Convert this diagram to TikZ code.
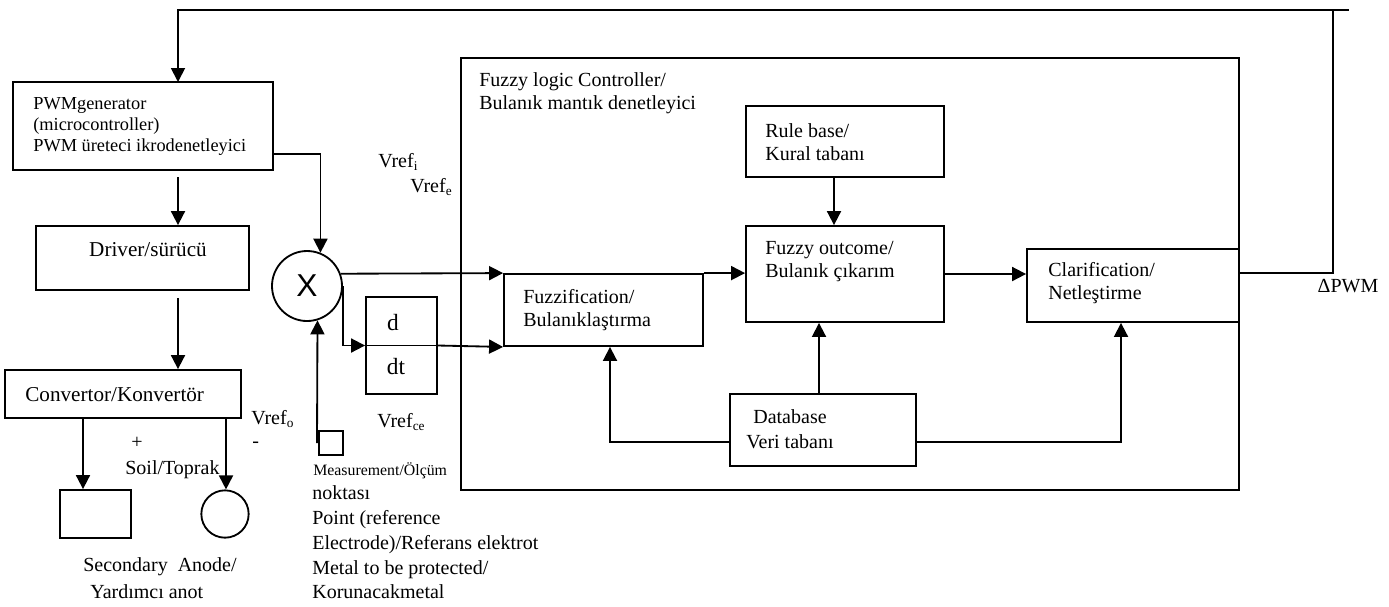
\documentclass[tikz,border=0pt]{standalone}
\usepackage{fontspec}
\setmainfont{Liberation Serif}
\newfontfamily\xsans{Liberation Sans}
\usetikzlibrary{arrows.meta, fit, positioning}
\tikzset{
	blk/.style={draw, line width=1.1pt, inner sep=0pt}
}
\tikzset{
	arr/.style={line width=1.1pt, -{Triangle[length=8.4pt,width=8.4pt]}}
}
\tikzset{
	txt/.style={inner sep=0pt, align=left, font=\fontsize{12}{13.8}\selectfont}
}
\newcommand{\fsz}[2]{\fontsize{#1}{#2}\selectfont}

\begin{document}
\begin{tikzpicture}[x=0.6pt, y=-0.6pt]
      \useasboundingbox (0,0) rectangle (1389,606);
      % left chain: generator, driver, convertor, electrodes
      \node[blk, fit={(13,82) (273,170)}] (pwm) {};
      \node[blk, fit={(36,226) (249,290)}] (drv) {};
      \node[blk, fit={(5,370) (241,418)}] (conv) {};
      \node[blk, fit={(60,490) (131,538)}] (sq) {};
      \node[blk, circle, minimum size=28.4pt] (an) at (225,514) {};
      \node[blk, circle, minimum size=42pt, font=\xsans\fsz{19}{20}] (X) at (307,286) {X};
      \node[blk, fit={(319,431) (343,455)}] (meas) {};
      \node[blk, fit={(366,297) (437,394)}] (ddt) {};
      % fuzzy controller
      \node[blk, fit={(461,58) (1239,490)}] (flc) {};
      \node[blk, fit={(746,106) (944,177)}] (rule) {};
      \node[blk, fit={(746,226) (944,322)}] (outc) {};
      \node[blk, fit={(504,274) (703,346)}] (fuzz) {};
      \node[blk, fit={(1027,249) (1239,322)}] (clar) {};
      \node[blk, fit={(730,394) (916,466)}] (db) {};

      % texts
      \node[txt, anchor=west, font=\fsz{11}{12.6}] (pwmtxt) at (33,126)
        {PWMgenerator\\(microcontroller)\\PWM üreteci ikrodenetleyici};
      \node[txt, font=\fsz{12.7}{14}] (drvtxt) at (148,250) {Driver/sürücü};
      \node[txt, anchor=west, font=\fsz{12.7}{14}] (convtxt) at (25,395) {Convertor/Konvertör};
      \node[txt] (plus) at (137,443) {+};
      \node[txt, anchor=west] (soil) at (125,470) {Soil/Toprak};
      \node[txt, anchor=west] (vrefo) at (251,419) {Vref\textsubscript{o}};
      \node[txt, anchor=west] (minus) at (252,445) {-};
      \node[txt, anchor=west] (sec) at (83,567) {Secondary\ \ Anode/};
      \node[txt, anchor=west] (yard) at (90,592) {Yardımcı anot};
      \node[txt, anchor=west, font=\fsz{9.5}{11}] (meastxt) at (313,471) {Measurement/Ölçüm};
      \node[txt, anchor=west, font=\fsz{12}{14.85}] (measdesc) at (312,542.5)
        {noktası\\Point (reference\\Electrode)/Referans elektrot\\Metal to be protected/\\Korunacakmetal};
      \node[txt, anchor=west] (vrefi) at (378,162) {Vref\textsubscript{i}};
      \node[txt, anchor=west] (vrefe) at (410,187) {Vref\textsubscript{e}};
      \node[txt, anchor=west] (vrefce) at (377,422) {Vref\textsubscript{ce}};
      \node[txt, font=\fsz{14}{15}] (dtxt) at (393,323) {d};
      \node[txt, font=\fsz{14}{15}] (dttxt) at (396,367) {dt};
      \node[txt, anchor=west] (flctxt) at (479,93.5) {Fuzzy logic Controller/\\Bulanık mantık denetleyici};
      \node[txt, anchor=west] (ruletxt) at (765,142.5) {Rule base/\\Kural tabanı};
      \node[txt, anchor=west] (outtxt) at (765,261.5) {Fuzzy outcome/\\Bulanık çıkarım};
      \node[txt, anchor=west] (fuzztxt) at (523,310) {Fuzzification/\\Bulanıklaştırma};
      \node[txt, anchor=west] (clartxt) at (1048,283.5) {Clarification/\\Netleştirme};
      \node[txt, align=center, font=\fsz{12}{15}] (dbtxt) at (790,429.5) {Database\\Veri tabanı};
      \node[txt] (dpwm) at (1348,286) {ΔPWM};

      % connector points
      \coordinate (clarout) at (1239,273);
      \coordinate (fbr) at (1333,10);
      \coordinate (fbend) at (1349,10);
      \coordinate (pwmin) at (178,82);
      \coordinate (pwmout) at (178,177);
      \coordinate (drvout) at (178,298);
      \coordinate (pwmx) at (273,154);
      \coordinate (sqx) at (83,0);
      \coordinate (anx) at (226,0);
      \coordinate (measup) at (317,443);
      \coordinate (rulex) at (834,0);
      \coordinate (dbx) at (819,0);
      \coordinate (dby) at (0,442);
      \coordinate (fzx) at (610,0);
      \coordinate (clx) at (1121,0);

      % feedback loop
      \draw[arr] (clarout) -| (fbr) -| (pwmin);
      \draw[line width=1.1pt] (fbr) -- (fbend);
      \draw[arr] (pwmout) -- (pwmout |- drv.north);
      \draw[arr] (drvout) -- (drvout |- conv.north);
      \draw[arr] (conv.south -| sqx) -- (sq.north -| sqx);
      \draw[arr] (conv.south -| anx) -- (an.north -| anx);
      \draw[arr] (pwmx) -| (X.68);
      \draw[arr] (measup) -- (X.-73);
      \draw[arr] (X.20) -- (fuzz.north west);
      \draw[arr] (X.east) |- (ddt.west);
      \draw[line width=1.1pt] (ddt.west) -- (ddt.east);
      \draw[arr] (ddt.east) -- (fuzz.south west);
      \draw[arr] (fuzz.north east) -- (fuzz.north east -| outc.west);
      \draw[arr] (outc.east) -- (outc.east -| clar.west);
      \draw[arr] (rule.south -| rulex) -- (outc.north -| rulex);
      \draw[arr] (db.north -| dbx) -- (outc.south -| dbx);
      \draw[arr] (db.west |- dby) -| (fuzz.south -| fzx);
      \draw[arr] (db.east |- dby) -| (clar.south -| clx);
    \end{tikzpicture}
\end{document}
